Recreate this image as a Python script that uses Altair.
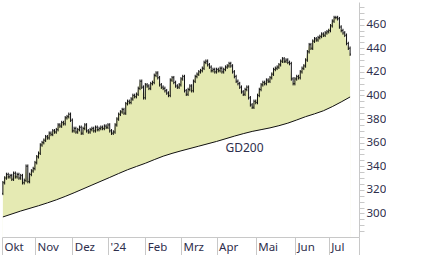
import json
import altair as alt
import pandas as pd

# ---- data ----
closes = [
    # Okt
    326, 330, 333, 331, 332, 329, 334, 331, 333, 330, 332, 326, 328, 340, 327, 333, 336, 338,
    # Nov
    343, 348, 351, 358, 360, 362, 365, 364, 368, 367, 370, 369, 371, 375, 374, 377, 376, 381, 382, 384, 379,
    # Dez
    370, 372, 369, 371, 373, 368, 372, 375, 370, 369, 371, 372, 370, 373, 371, 372, 373, 372, 374, 373,
    # Jan
    375, 370, 368, 369, 375, 380, 384, 386, 388, 385, 393, 395, 394, 397, 400, 399, 401, 406, 412, 407, 398,
    # Feb
    409, 408, 406, 410, 411, 417, 419, 415, 409, 407, 406, 404, 402, 400, 413, 415, 411, 408, 407, 409,
    # Mrz
    414, 416, 404, 401, 405, 408, 404, 412, 416, 418, 420, 421, 423, 428, 429, 426, 424, 421, 422, 420,
    # Apr
    422, 421, 423, 420, 422, 424, 425, 427, 425, 420, 416, 412, 410, 407, 403, 401, 405, 407, 398, 392, 390, 395,
    # Mai
    394, 400, 405, 409, 411, 410, 413, 412, 415, 418, 422, 423, 424, 426, 429, 431, 429, 430, 428, 427, 414, 410,
    # Jun
    414, 416, 415, 420, 423, 425, 430, 437, 443, 440, 446, 448, 447, 449, 450, 452, 451, 453, 454,
    # Jul
    455, 459, 463, 466, 466, 465, 458, 455, 453, 451, 444, 440, 435,
]
first_open = 317

gd_index = [0, 10, 20, 30, 40, 50, 60, 70, 80, 90, 100, 110, 120, 130, 140, 150, 160, 170, 180, 190, 195]
gd_value = [297, 302, 306.5, 311.5, 317.5, 324, 330.5, 337, 342.5, 348.5, 353, 357, 361, 365.5,
            369.5, 372.5, 376.5, 382, 387, 394.5, 398.7]
gd_label = ["GD200"]

month_names = ["Okt", "Nov", "Dez", "'24", "Feb", "Mrz", "Apr", "Mai", "Jun", "Jul", ""]
month_start = [-0.5, 18, 39, 59, 80, 100, 120, 142, 164, 183, 200]

y_tick_values = list(range(285, 480, 5))

# ---- styling ----
FONT = "Noto Sans"
TEXT = "#2e2e4c"
AXIS = "#c8c8c8"
FILL = "#e5eab3"
INK = "#111111"
wick = 1.5
stub = 0.45

opens = [first_open] + closes[:-1]
bars = pd.DataFrame({"i": list(range(len(closes))), "open": opens, "close": closes})
bars["high"] = bars[["open", "close"]].max(axis=1) + wick
bars["low"] = bars[["open", "close"]].min(axis=1) - wick
bars["ol"] = bars["i"] - stub
bars["cr"] = bars["i"] + stub

gd = pd.DataFrame({"i": gd_index, "gd": gd_value})

xscale = alt.Scale(domain=[-0.5, 200], nice=False, zero=False)
yscale = alt.Scale(domain=[280, 479.2], nice=False, zero=False)

label_expr = "%s[indexof(%s, datum.value)]" % (json.dumps(month_names), json.dumps(month_start))

xaxis = alt.Axis(
    values=month_start, tickCount=500, labelExpr=label_expr, title=None, grid=False,
    tickSize=20, tickColor=AXIS, domainColor=AXIS, labelPadding=-16,
    labelAlign="left", labelBaseline="top", labelOffset=2, labelOverlap=False,
    labelColor=TEXT, labelFont=FONT, labelFontSize=11.5, zindex=1,
)
yaxis = alt.Axis(
    orient="right", values=y_tick_values, tickCount=500, title=None, grid=False, format="d",
    labelExpr="(datum.value % 20 == 0 && datum.value >= 300 && datum.value <= 460) ? datum.label : ''",
    tickSize=5, tickColor=AXIS, domainColor=AXIS, labelPadding=2, labelOverlap=False,
    labelColor=TEXT, labelFont=FONT, labelFontSize=11.5, zindex=1,
)


def X(f):
    return alt.X(f, scale=xscale, axis=xaxis)


def Y(f):
    return alt.Y(f, scale=yscale, axis=yaxis)


base = alt.Chart(bars)

area = base.mark_area(color=FILL, opacity=1).encode(x=X("i:Q"), y=Y("close:Q"), y2=alt.datum(280))
white = alt.Chart(gd).mark_area(color="white", opacity=1, interpolate="monotone").encode(
    x=X("i:Q"), y=Y("gd:Q"), y2=alt.datum(280))
gdline = alt.Chart(gd).mark_line(color=INK, strokeWidth=1, interpolate="monotone").encode(
    x=X("i:Q"), y=Y("gd:Q"))
hl = base.mark_rule(color=INK, strokeWidth=1).encode(x=X("i:Q"), y=Y("low:Q"), y2="high:Q")
op = base.mark_rule(color=INK, strokeWidth=1).encode(x=X("ol:Q"), x2="i:Q", y=Y("open:Q"))
cl = base.mark_rule(color=INK, strokeWidth=1).encode(x=X("i:Q"), x2="cr:Q", y=Y("close:Q"))
label = alt.Chart(pd.DataFrame({"t": gd_label})).mark_text(
    align="left", baseline="alphabetic", font=FONT, fontSize=12, color=TEXT
).encode(text="t:N", x=alt.datum(125), y=alt.datum(352))

chart = (
    alt.layer(area, white, gdline, hl, op, cl, label)
    .properties(width=357, height=235, padding=0, background="white")
    .configure_view(stroke=None)
)

chart.save("out.html", embed_options={"renderer": "svg", "actions": False})
